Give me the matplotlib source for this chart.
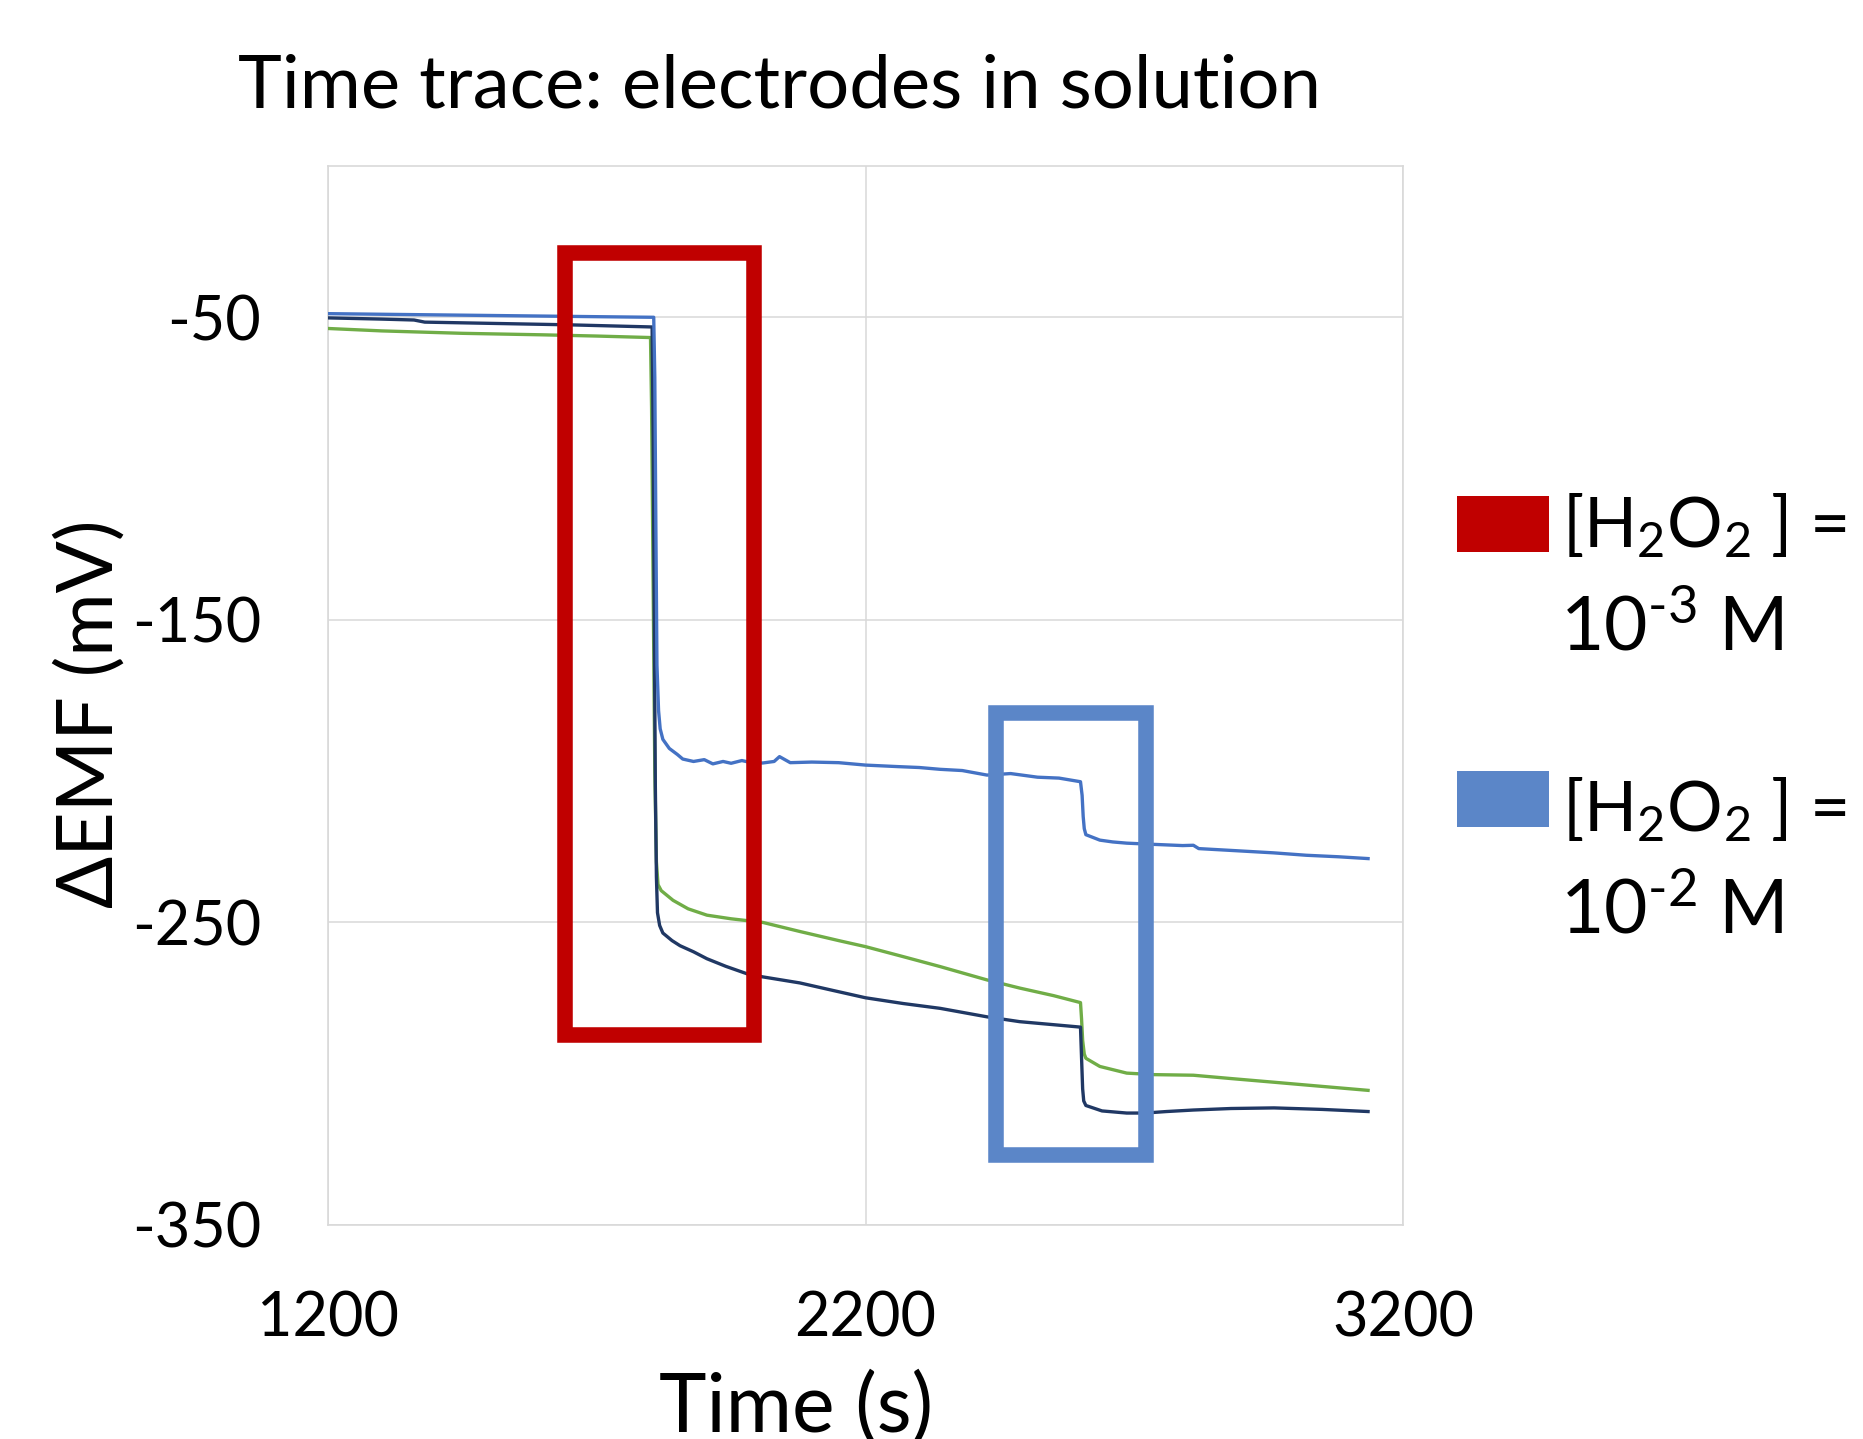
import matplotlib
matplotlib.use("Agg")
import matplotlib.pyplot as plt
from matplotlib.patches import Rectangle

# ---------------- data ----------------
t_blue = [1200, 1300, 1450, 1600, 1700, 1806, 1808, 1810, 1812, 1815, 1818, 1823, 1835, 1850,
          1860, 1880, 1900, 1916, 1935, 1950, 1970, 1990, 2009, 2030, 2040, 2060, 2100, 2150,
          2200, 2260, 2300, 2339, 2380, 2426, 2470, 2520, 2560, 2600, 2603, 2605, 2607, 2610,
          2636, 2660, 2686, 2736, 2790, 2810, 2820, 2880, 2959, 3020, 3080, 3135]
v_blue = [-48.8, -49.0, -49.3, -49.6, -49.8, -50.0, -70, -120, -165, -180, -186, -189.5, -192.5,
          -194.5, -196, -196.8, -196.2, -197.6, -196.8, -197.4, -196.5, -197.3, -197.3, -196.8,
          -195.2, -197.2, -197, -197.2, -198, -198.5, -198.8, -199.4, -199.8, -201.3, -200.8,
          -202, -202.3, -203.5, -208, -215, -219, -221, -222.8, -223.4, -223.8, -224.2, -224.6,
          -224.5, -225.6, -226.2, -227, -227.8, -228.3, -228.9]

t_green = [1200, 1300, 1450, 1600, 1700, 1800, 1802, 1805, 1808, 1811, 1814, 1820, 1842, 1870,
           1905, 1950, 2009, 2078, 2150, 2200, 2270, 2339, 2426, 2487, 2550, 2600, 2602, 2604,
           2607, 2610, 2636, 2686, 2736, 2810, 2880, 2959, 3050, 3135]
v_green = [-53.7, -54.5, -55.3, -55.8, -56.2, -56.7, -80, -140, -200, -230, -237.5, -239.5,
           -242.7, -245.5, -247.6, -248.8, -250, -253, -256, -258, -261.3, -264.6, -269, -271.7,
           -274.2, -276.5, -282, -289, -293.5, -294.9, -297.6, -299.8, -300.3, -300.5, -301.6,
           -302.8, -304.2, -305.5]

t_navy = [1200, 1300, 1360, 1380, 1500, 1650, 1803, 1805, 1807, 1809, 1811, 1813, 1817, 1823,
          1840, 1855, 1880, 1905, 1940, 1980, 2009, 2078, 2140, 2200, 2270, 2339, 2426, 2487,
          2550, 2600, 2602, 2604, 2606, 2610, 2640, 2686, 2720, 2760, 2810, 2880, 2960, 3050, 3135]
v_navy = [-50.2, -50.6, -50.9, -51.6, -52.0, -52.5, -53.2, -90, -150, -205, -235, -246.8, -251,
          -253.5, -256, -257.7, -259.7, -262, -264.5, -267, -268, -270, -272.5, -274.9, -276.8,
          -278.4, -281.2, -282.8, -283.8, -284.6, -295, -305, -309, -310.5, -312.3, -313, -313,
          -312.5, -312, -311.5, -311.3, -311.8, -312.5]

x_ticks = [1200, 2200, 3200]
y_ticks = [-350, -250, -150, -50]

# highlight boxes (time range, mV range)
red_box_t = [1640, 1993]
red_box_v = [-287.2, -28.9]
blue_box_t = [2442, 2722]
blue_box_v = [-327.0, -180.7]

title = "Time trace: electrodes in solution"
xlabel = "Time (s)"
ylabel = "\u0394EMF (mV)"
legend_line1 = r"[H$_2$O$_2$ ] ="
legend_line2 = [r"10$^{\text{-3}}$ M", r"10$^{\text{-2}}$ M"]

# ---------------- style ----------------
FONT = "Lato"
plt.rcParams["font.family"] = [FONT, "DejaVu Sans"]
plt.rcParams["mathtext.fontset"] = "custom"
plt.rcParams["mathtext.rm"] = FONT
plt.rcParams["mathtext.it"] = FONT
plt.rcParams["mathtext.bf"] = FONT
plt.rcParams["axes.unicode_minus"] = False

W, H = 1863, 1439
DPI = 100
fig = plt.figure(figsize=(W / DPI, H / DPI), dpi=DPI)

def fx(px):
    return px / W

def fy(py):
    return 1 - py / H

ax = fig.add_axes([fx(328), fy(1225), fx(1403) - fx(328), fy(166) - fy(1225)])

grey = "#D9D9D9"
lw_line = 2.4
ax.plot(t_green, v_green, color="#70AD47", lw=lw_line, zorder=3)
ax.plot(t_navy, v_navy, color="#203864", lw=lw_line, zorder=4)
ax.plot(t_blue, v_blue, color="#4472C4", lw=lw_line, zorder=5)

box_lw = 11.2
ax.add_patch(Rectangle((red_box_t[0], red_box_v[0]), red_box_t[1] - red_box_t[0],
                       red_box_v[1] - red_box_v[0], fill=False, edgecolor="#C00000",
                       lw=box_lw, joinstyle="miter", zorder=6, clip_on=False))
ax.add_patch(Rectangle((blue_box_t[0], blue_box_v[0]), blue_box_t[1] - blue_box_t[0],
                       blue_box_v[1] - blue_box_v[0], fill=False, edgecolor="#5B86C8",
                       lw=box_lw, joinstyle="miter", zorder=6, clip_on=False))

ax.set_xlim(1200, 3200)
ax.set_ylim(-350, 0)
ax.set_xticks(x_ticks)
ax.set_yticks(y_ticks)
ax.grid(True, color=grey, lw=1.1, zorder=0)
ax.set_axisbelow(True)
for s in ax.spines.values():
    s.set_color(grey)
    s.set_linewidth(1.2)
ax.tick_params(axis="both", length=0, labelsize=44)
ax.tick_params(axis="x", pad=47)
ax.tick_params(axis="y", pad=48)

# title and axis labels
fig.text(fx(780), fy(108), title, ha="center", va="baseline", fontsize=53.5)
fig.text(fx(796), fy(1432), xlabel, ha="center", va="baseline", fontsize=58)
fig.text(fx(113), fy(714), ylabel, ha="center", va="baseline", rotation=90,
         rotation_mode="anchor", fontsize=55.5)

# legend (drawn outside the plot area on the right)
leg_colors = ["#C00000", "#5B86C8"]
patch_top = [496, 771]
line1_base = [547, 832]
line2_base = [650, 933]
for i in range(2):
    fig.patches.append(Rectangle((fx(1457), fy(patch_top[i] + 56)), fx(92), 56 / H,
                                 transform=fig.transFigure, color=leg_colors[i], lw=0))
    fig.text(fx(1562), fy(line1_base[i]), legend_line1, ha="left", va="baseline", fontsize=50)
    fig.text(fx(1560), fy(line2_base[i]), legend_line2[i], ha="left", va="baseline", fontsize=54)

fig.savefig("out.png", dpi=DPI, facecolor="white")
